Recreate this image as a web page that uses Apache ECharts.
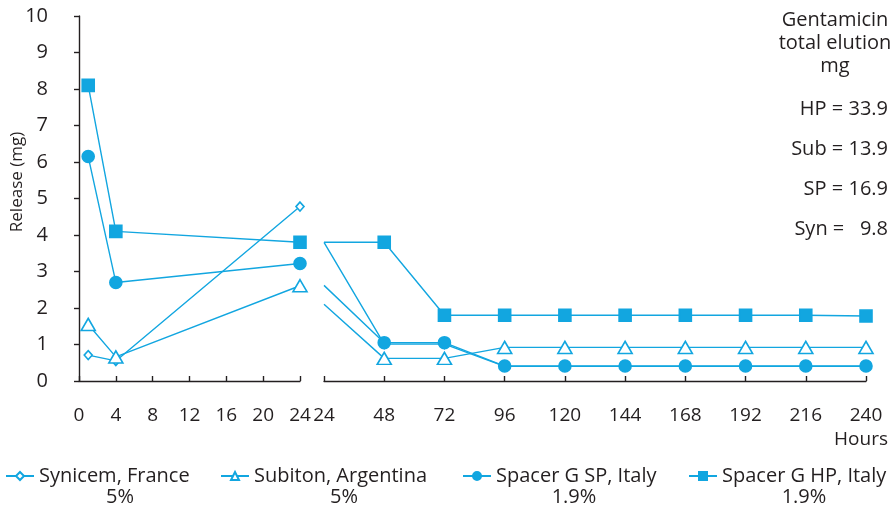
<!DOCTYPE html>
<html>
<head>
<meta charset="utf-8">
<script src="https://cdn.jsdelivr.net/npm/echarts@6/dist/echarts.min.js"></script>
<style>
html,body{margin:0;padding:0;background:#fff;}
#c{width:896px;height:508px;}
</style>
</head>
<body>
<div id="c"></div>
<script>
// ---- data ----
var seriesNames = ['Synicem, France', 'Subiton, Argentina', 'Spacer G SP, Italy', 'Spacer G HP, Italy'];
var seriesPct = ['5%', '5%', '1.9%', '1.9%'];
var hoursEarly = [1, 4, 24];
var hoursLate = [24, 48, 72, 96, 120, 144, 168, 192, 216, 240];
// early period (0-24 h)
var synEarly = [0.71, 0.55, 4.78];
var subEarly = [1.55, 0.66, 2.61];
var spEarly  = [6.15, 2.70, 3.22];
var hpEarly  = [8.10, 4.10, 3.80];
// late period (24-240 h); first value (24 h) is drawn without a marker
var synLate = [3.80, 1.01, 1.01, 0.40, 0.40, 0.40, 0.40, 0.40, 0.40, 0.40];
var subLate = [2.10, 0.62, 0.62, 0.92, 0.92, 0.92, 0.92, 0.92, 0.92, 0.92];
var spLate  = [2.62, 1.05, 1.05, 0.41, 0.41, 0.41, 0.41, 0.41, 0.41, 0.41];
var hpLate  = [3.80, 3.80, 1.80, 1.80, 1.80, 1.80, 1.80, 1.80, 1.80, 1.78];
var earlyTicks = {min: 0, max: 24, interval: 4};
var lateTicks = {min: 24, max: 240, interval: 24};
var yTicks = {min: 0, max: 10, interval: 1};
var yTitle = 'Release (mg)';
var xTitle = 'Hours';
var elutionTitle = ['Gentamicin', 'total elution', 'mg'];
var elutionLines = ['HP = 33.9', 'Sub = 13.9', 'SP = 16.9', 'Syn =   9.8'];

// ---- styles ----
var FONT = 'Open Sans';
var TXT = '#231f20';
var BLUE = '#12a6e0';
var styles = [
  {symbol: 'diamond', size: [8, 9], fill: '#fff'},
  {symbol: 'triangle', size: [14, 12], fill: '#fff'},
  {symbol: 'circle', size: 12, fill: BLUE},
  {symbol: 'rect', size: 12, fill: BLUE}
];
var early = [synEarly, subEarly, spEarly, hpEarly];
var late = [synLate, subLate, spLate, hpLate];

function pairs(xs, ys, skipFirst) {
  return xs.map(function (x, i) {
    var d = {value: [x, ys[i]]};
    if (skipFirst && i === 0) { d.symbol = 'none'; }
    return d;
  });
}

var series = [];
for (var k = 0; k < 4; k++) {
  var base = {
    name: seriesNames[k],
    type: 'line',
    symbol: styles[k].symbol,
    symbolSize: styles[k].size,
    showAllSymbol: true,
    lineStyle: {color: BLUE, width: 1.4},
    itemStyle: {color: styles[k].fill, borderColor: BLUE, borderWidth: 1.6},
    emphasis: {disabled: true},
    animation: false,
    z: 2 + k
  };
  series.push(Object.assign({}, base, {xAxisIndex: 0, yAxisIndex: 0, data: pairs(hoursEarly, early[k], false)}));
  series.push(Object.assign({}, base, {xAxisIndex: 1, yAxisIndex: 1, data: pairs(hoursLate, late[k], true)}));
}

var axisLineStyle = {color: TXT, width: 1.4};
var xLabelStyle = {color: TXT, fontFamily: FONT, fontSize: 19};
var yLabelStyle = {color: TXT, fontFamily: FONT, fontSize: 20};

var legendLefts = [5, 220, 462, 688];
var pctCenters = [120, 344, 574, 804];
var legends = seriesNames.map(function (n, i) {
  return {
    data: [n],
    left: legendLefts[i],
    top: 466,
    padding: 0,
    itemWidth: 28,
    itemHeight: 10,
    itemGap: 0,
    selectedMode: false,
    textStyle: {color: TXT, fontFamily: FONT, fontSize: 20}
  };
});

function txt(t, x, y, size, align) {
  return {type: 'text', x: x, y: y, style: {text: t, fill: TXT, font: size + 'px "' + FONT + '"', align: align, verticalAlign: 'middle'}};
}
var graphics = [];
elutionTitle.forEach(function (t, i) { graphics.push(txt(t, 835, 20 + i * 23, 20, 'center')); });
elutionLines.forEach(function (t, i) { graphics.push(txt(t, 888, 109 + i * 40, 20, 'right')); });
graphics.push(txt(xTitle, 888, 440, 19, 'right'));
seriesPct.forEach(function (p, i) { graphics.push(txt(p, pctCenters[i], 497, 20, 'center')); });
var yt = txt(yTitle, 17, 182, 17, 'center');
yt.rotation = Math.PI / 2;
graphics.push(yt);

var option = {
  backgroundColor: '#fff',
  animation: false,
  textStyle: {fontFamily: FONT},
  grid: [
    {left: 79, width: 221, top: 16, bottom: 127, containLabel: false},
    {left: 324, right: 30, top: 16, bottom: 127, containLabel: false}
  ],
  xAxis: [
    {gridIndex: 0, type: 'value', min: earlyTicks.min, max: earlyTicks.max, interval: earlyTicks.interval,
     offset: 18, axisLine: {lineStyle: axisLineStyle}, axisTick: {inside: true, length: 5, lineStyle: axisLineStyle},
     axisLabel: Object.assign({margin: 7}, xLabelStyle), splitLine: {show: false}},
    {gridIndex: 1, type: 'value', min: lateTicks.min, max: lateTicks.max, interval: lateTicks.interval,
     offset: 18, axisLine: {lineStyle: axisLineStyle}, axisTick: {inside: true, length: 5, lineStyle: axisLineStyle},
     axisLabel: Object.assign({margin: 7}, xLabelStyle), splitLine: {show: false}}
  ],
  yAxis: [
    {gridIndex: 0, type: 'value', min: yTicks.min, max: yTicks.max, interval: yTicks.interval,
     offset: 21, axisLine: {show: true, lineStyle: axisLineStyle}, axisTick: {show: true, length: 5, lineStyle: axisLineStyle},
     axisLabel: Object.assign({margin: 10}, yLabelStyle), splitLine: {show: false}},
    {gridIndex: 1, type: 'value', min: yTicks.min, max: yTicks.max, interval: yTicks.interval, show: false}
  ],
  legend: legends,
  graphic: graphics,
  series: series
};

var chart = echarts.init(document.getElementById('c'), null, {renderer: 'canvas'});
chart.setOption(option);
</script>
</body>
</html>
